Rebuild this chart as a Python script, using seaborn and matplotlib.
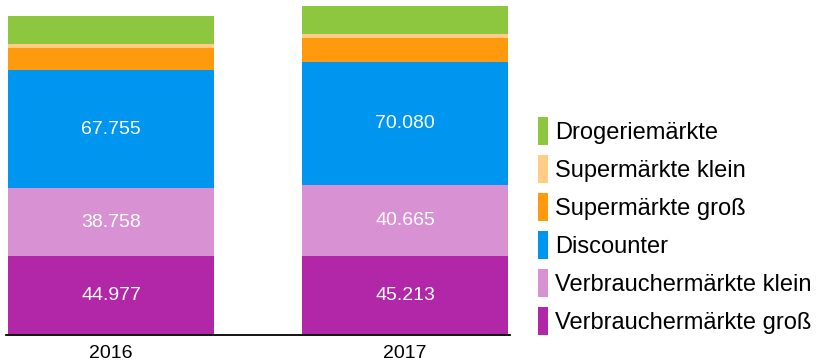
import matplotlib
matplotlib.use("Agg")
import matplotlib.pyplot as plt
from matplotlib.patches import Patch
import numpy as np
import pandas as pd
import seaborn as sns

# Store counts per store type, stacked bottom to top
years = ["2016", "2017"]
verbraucher_gross = [44977, 45213]
verbraucher_klein = [38758, 40665]
discounter = [67755, 70080]
supermaerkte_gross = [12600, 13700]
supermaerkte_klein = [2300, 2300]
drogeriemaerkte = [16000, 16000]

series_names = [
    "Verbrauchermärkte groß",
    "Verbrauchermärkte klein",
    "Discounter",
    "Supermärkte groß",
    "Supermärkte klein",
    "Drogeriemärkte",
]
series_values = [
    verbraucher_gross,
    verbraucher_klein,
    discounter,
    supermaerkte_gross,
    supermaerkte_klein,
    drogeriemaerkte,
]
series_colors = ["#B226A8", "#D891D3", "#0096F0", "#FF9A0E", "#FFCD86", "#8DC73F"]
labelled = {"Verbrauchermärkte groß", "Verbrauchermärkte klein", "Discounter"}

sns.set_theme(style="white")
plt.rcParams["font.family"] = ["Liberation Sans", "DejaVu Sans"]
plt.rcParams["text.color"] = "black"

fig = plt.figure(figsize=(8.17, 3.63), dpi=100)
ax = fig.add_axes([6 / 817, 28 / 363, 504 / 817, 335 / 363])

bottom = np.zeros(len(years))
for name, vals, col in zip(series_names, series_values, series_colors):
    df = pd.DataFrame({"Jahr": years, "Wert": vals})
    sns.barplot(data=df, x="Jahr", y="Wert", bottom=bottom, color=col,
                width=0.7, errorbar=None, saturation=1, linewidth=0, ax=ax)
    if name in labelled:
        ax.bar_label(ax.containers[-1],
                     labels=[f"{v:,}".replace(",", ".") for v in vals],
                     label_type="center", color="white", fontsize=14)
    bottom = bottom + np.array(vals)

ax.set_xlim(-0.357, 1.357)
ax.set_ylim(0, 191400)
ax.set_xlabel("")
ax.set_ylabel("")
ax.set_yticks([])
for side in ["top", "right", "left"]:
    ax.spines[side].set_visible(False)
ax.spines["bottom"].set_color("black")
ax.spines["bottom"].set_linewidth(1.3)
ax.tick_params(axis="x", length=0, pad=7.5, labelsize=14, colors="black")

handles = [Patch(facecolor=c, edgecolor="none") for c in series_colors][::-1]
fig.legend(handles, series_names[::-1], loc="center left",
           bbox_to_anchor=(538 / 817, 0.377), frameon=False, fontsize=17,
           labelcolor="black",
           handlelength=0.42, handleheight=1.45, handletextpad=0.3,
           labelspacing=0.42, borderpad=0, borderaxespad=0)

fig.savefig("out.png", dpi=100)
